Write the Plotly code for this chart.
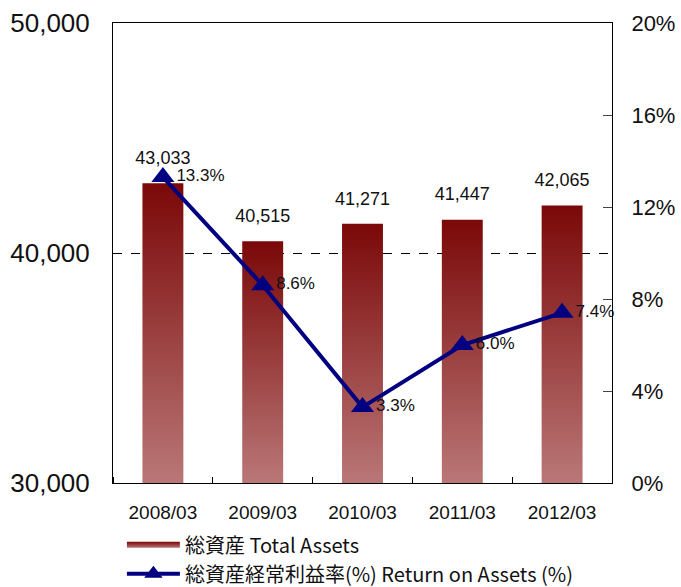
import plotly.graph_objects as go

categories = ["2008/03", "2009/03", "2010/03", "2011/03", "2012/03"]
total_assets = [43033, 40515, 41271, 41447, 42065]
roa = [13.3, 8.6, 3.3, 6.0, 7.4]
left_ticks = [30000, 40000, 50000]
left_tick_text = ["30,000", "40,000", "50,000"]
right_ticks = [0, 4, 8, 12, 16, 20]
right_tick_text = ["0%", "4%", "8%", "12%", "16%", "20%"]

BAR_HALF = 0.205
BASE = 30000
BAR_TOP = "#7B0808"
BAR_BOTTOM = "#BA7777"
NAVY = "#000080"
ARIAL = "Liberation Sans, Arial, sans-serif"
JP = "Noto Sans CJK JP, sans-serif"

fig = go.Figure()

xs = list(range(len(categories)))
for i, v in enumerate(total_assets):
    fig.add_trace(go.Scatter(
        x=[i - BAR_HALF, i - BAR_HALF, i + BAR_HALF, i + BAR_HALF],
        y=[BASE, v, v, BASE],
        fill="toself", mode="none",
        fillgradient=dict(type="vertical",
                          colorscale=[[0, BAR_BOTTOM], [1, BAR_TOP]]),
        name="総資産 Total Assets", legendgroup="assets",
        showlegend=(i == 0), hoverinfo="skip",
    ))

fig.add_trace(go.Scatter(
    x=xs, y=total_assets, mode="markers+text",
    marker=dict(size=22, color="rgba(0,0,0,0)"),
    text=[f"{v:,}" for v in total_assets],
    textposition="top center",
    textfont=dict(family=ARIAL, size=18, color="#111"),
    showlegend=False, cliponaxis=False, hoverinfo="skip",
))

fig.add_trace(go.Scatter(
    x=xs, y=roa, yaxis="y2",
    mode="lines+markers+text",
    line=dict(color=NAVY, width=4),
    marker=dict(symbol="triangle-up", size=20, color=NAVY),
    text=[f"{r:.1f}%" for r in roa],
    textposition="middle right",
    textfont=dict(family=ARIAL, size=17, color="#111"),
    name="総資産経常利益率(%) Return on Assets (%)",
    cliponaxis=False,
))

fig.update_layout(
    width=681, height=587,
    margin=dict(l=113, r=69, t=23, b=104, autoexpand=False),
    paper_bgcolor="white", plot_bgcolor="white",
    showlegend=True,
    legend=dict(xref="container", yref="container",
                x=0.179, xanchor="left", y=0.105, yanchor="top",
                font=dict(family=JP, size=20, color="#111"),
                itemwidth=53, bgcolor="rgba(0,0,0,0)", traceorder="normal"),
    xaxis=dict(range=[-0.5, 4.5], tickmode="array", tickvals=xs,
               ticktext=categories, ticks="", showgrid=False, zeroline=False,
               showline=True, linecolor="black", linewidth=1, mirror=True,
               automargin=False,
               tickfont=dict(family=ARIAL, size=19, color="#111"),
               ticklabelstandoff=12,
               minor=dict(ticks="inside", tickmode="linear", tick0=0.5, dtick=1,
                          ticklen=6, tickcolor="black", showgrid=False)),
    yaxis=dict(range=[30000, 50000], tickmode="array", tickvals=left_ticks,
               ticktext=left_tick_text, showgrid=True, gridcolor="black",
               griddash="dash", gridwidth=1, zeroline=False, automargin=False,
               showline=True, linecolor="black", linewidth=1, ticks="",
               tickfont=dict(family=ARIAL, size=26, color="#111"),
               ticklabelstandoff=17),
    yaxis2=dict(range=[0, 20], overlaying="y", side="right", tickmode="array",
                tickvals=right_ticks, ticktext=right_tick_text, showgrid=False,
                zeroline=False, showline=True, linecolor="black", linewidth=1,
                automargin=False,
                ticks="inside", ticklen=9, tickcolor="#444",
                tickfont=dict(family=ARIAL, size=22, color="#111"),
                ticklabelstandoff=14),
)

fig.write_html(
    "out.html",
    config={"displayModeBar": False},
    post_script="document.body.style.margin='0';document.body.style.overflow='hidden';",
)
